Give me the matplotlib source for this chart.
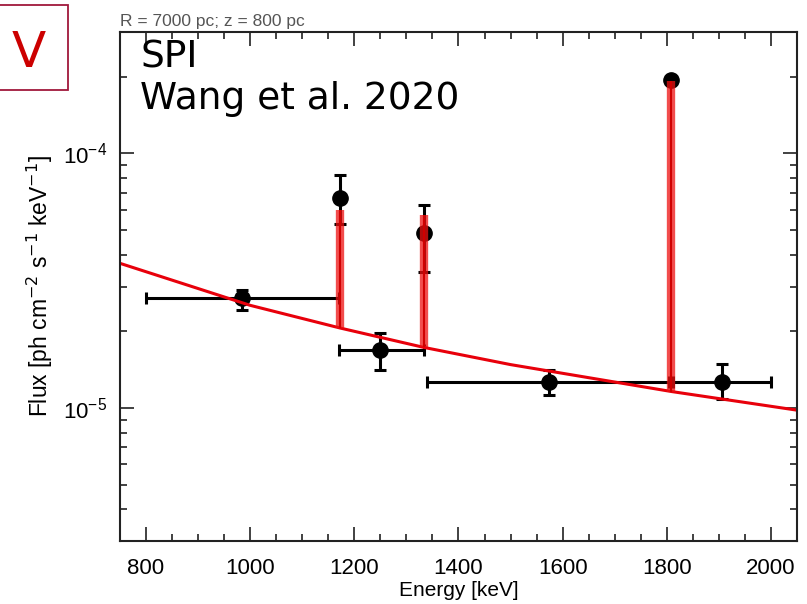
import numpy as np
import matplotlib.pyplot as plt
from matplotlib.patches import Rectangle
from matplotlib.ticker import MultipleLocator, LogLocator, NullFormatter

# data points (energy, flux)
e_pts = [985, 1173, 1250, 1333, 1573, 1809, 1906]
e_lo = [800, 1173, 1170, 1333, 1340, 1809, 1812]
e_hi = [1170, 1173, 1333, 1333, 1805, 1809, 2000]
f_pts = [2.70e-5, 6.67e-5, 1.69e-5, 4.87e-5, 1.26e-5, 1.95e-4, 1.27e-5]
f_lo = [2.43e-5, 5.27e-5, 1.41e-5, 3.42e-5, 1.12e-5, 1.95e-4, 1.08e-5]
f_hi = [2.90e-5, 8.20e-5, 1.97e-5, 6.30e-5, 1.41e-5, 1.95e-4, 1.49e-5]

# continuum model and lines
e_cont = [750, 1000, 1173, 1333, 1500, 1809, 2050]
f_cont = [3.70e-5, 2.53e-5, 2.06e-5, 1.73e-5, 1.48e-5, 1.16e-5, 9.8e-6]
e_line = [1173, 1333, 1809]
f_line_base = [2.06e-5, 1.73e-5, 1.16e-5]
f_line_peak = [6.0e-5, 5.71e-5, 1.93e-4]

fig = plt.figure(figsize=(8.07, 6.04), dpi=100)
ax = fig.add_axes([0.1487, 0.1043, 0.8389, 0.8427])

ax.plot(e_cont, f_cont, color='#e8000b', lw=2.2, zorder=2)
ax.vlines(e_line, f_line_base, f_line_peak, color='#ee1111', lw=6, alpha=0.75, zorder=2)
ax.vlines(e_line, f_line_base, f_line_peak, color='#d00000', lw=1.5, zorder=2)

xerr = [np.array(e_pts) - np.array(e_lo), np.array(e_hi) - np.array(e_pts)]
yerr = [np.array(f_pts) - np.array(f_lo), np.array(f_hi) - np.array(f_pts)]
ax.errorbar(e_pts, f_pts, xerr=xerr, yerr=yerr, fmt='o', color='black',
            ms=11, elinewidth=2.2, capsize=4, capthick=2.2, zorder=1)

ax.set_yscale('log')
ax.set_xlim(750, 2050)
ax.set_ylim(3e-6, 3e-4)
ax.xaxis.set_major_locator(MultipleLocator(200))
ax.xaxis.set_minor_locator(MultipleLocator(50))
ax.yaxis.set_major_locator(LogLocator(base=10))
ax.yaxis.set_minor_locator(LogLocator(base=10, subs=np.arange(2, 10)))
ax.yaxis.set_minor_formatter(NullFormatter())
ax.tick_params(which='both', direction='in', top=True, right=True,
               labelsize=16, color='#333333', width=1.3)
ax.tick_params(which='major', length=10, pad=9)
ax.tick_params(which='minor', length=5)
ax.tick_params(axis='x', which='major', pad=12)
for sp in ax.spines.values():
    sp.set_linewidth(1.5)
    sp.set_color('#222222')
for lab in ax.get_xticklabels() + ax.get_yticklabels():
    lab.set_family('Liberation Sans')

ax.set_xlabel('Energy [keV]', fontsize=15, family='Liberation Sans', labelpad=2)
ax.set_ylabel(r'Flux [ph cm$^{-2}$ s$^{-1}$ keV$^{-1}$]', fontsize=16.5,
              family='Liberation Sans', labelpad=6)
ax.set_title('R = 7000 pc; z = 800 pc', loc='left', fontsize=12.5,
             color='#555555', family='Liberation Sans', pad=4)

ax.text(0.03, 0.985, 'SPI\nWang et al. 2020', transform=ax.transAxes,
        fontsize=27, va='top', ha='left', family='DejaVu Sans', linespacing=1.2)

fig.patches.append(Rectangle((-0.01, 0.851), 0.094, 0.14, transform=fig.transFigure,
                             fill=False, edgecolor='#a0183c', lw=1.3))
fig.text(0.035, 0.913, 'V', fontsize=36, color='#cc0000', ha='center', va='center',
         family='DejaVu Sans')

fig.savefig('out.png', dpi=100)
